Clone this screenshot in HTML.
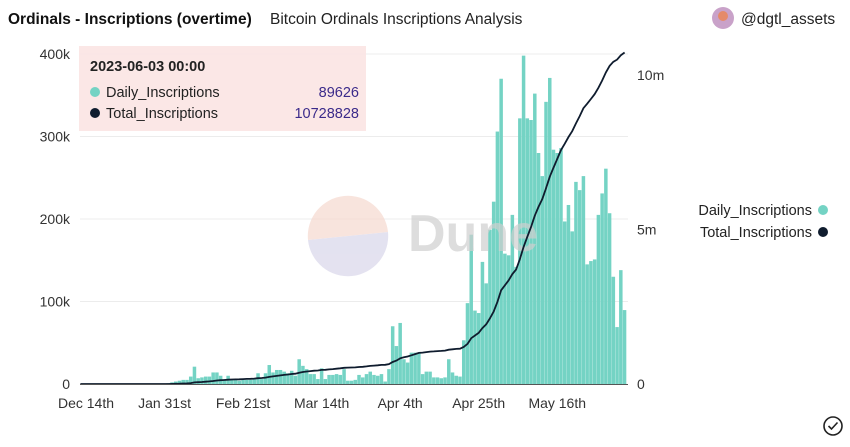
<!DOCTYPE html>
<html><head><meta charset="utf-8"><style>
body{margin:0;background:#fff;width:850px;height:442px;overflow:hidden;font-family:"Liberation Sans",sans-serif;}
svg text{font-family:"Liberation Sans",sans-serif;}
</style></head><body>
<svg id="chart" width="850" height="442" viewBox="0 0 850 442">
<text x="8" y="24" font-size="15.5" font-weight="bold" fill="#111">Ordinals - Inscriptions (overtime)</text>
<text x="270" y="24" font-size="15.5" fill="#222">Bitcoin Ordinals Inscriptions Analysis</text>
<g>
<circle cx="723" cy="18" r="11" fill="#c9a2c9"/><circle cx="723" cy="16" r="5" fill="#e58a6a"/>
<text x="741" y="24" font-size="15.5" fill="#222">@dgtl_assets</text></g>
<g id="grid"></g>
<g id="bars"></g>
<g opacity="0.7">
<path d="M308,240 A40,40 0 1,1 388,232 Z" fill="#f6d9cf"/>
<path d="M308,240 L388,232 A40,40 0 0,1 308,240 Z" fill="#d8d6ea"/>
<text x="408" y="251" font-size="52" font-weight="bold" fill="#cfcfcf">Dune</text></g>
<path id="line" fill="none" stroke="#0f1c2e" stroke-width="1.8"></path>
<g id="axes"></g>
<g>
<rect x="79" y="46" width="287" height="85" fill="#fbe6e5" opacity="0.95"/>
<text x="90" y="71" font-size="14.5" font-weight="bold" fill="#222">2023-06-03 00:00</text>
<circle cx="95" cy="92" r="5" fill="#74d3c4"/>
<text x="106" y="97" font-size="14.5" fill="#222">Daily_Inscriptions</text>
<text x="359" y="97" font-size="14.5" fill="#3b2a8a" text-anchor="end">89626</text>
<circle cx="95" cy="113" r="5" fill="#0f1c2e"/>
<text x="106" y="118" font-size="14.5" fill="#222">Total_Inscriptions</text>
<text x="359" y="118" font-size="14.5" fill="#3b2a8a" text-anchor="end">10728828</text></g>
<g>
<g><text x="812" y="215" font-size="14.5" fill="#222" text-anchor="end">Daily_Inscriptions</text><circle cx="823" cy="210" r="5" fill="#74d3c4"/></g>
<g><text x="812" y="237" font-size="14.5" fill="#222" text-anchor="end">Total_Inscriptions</text><circle cx="823" cy="232" r="5" fill="#0f1c2e"/></g></g>
<g><circle cx="833" cy="426" r="9" fill="none" stroke="#222" stroke-width="1.6"/><path d="M828.5,426 L831.5,429 L837.5,422.5" fill="none" stroke="#222" stroke-width="1.6"/></g>
</svg>
<script>
const startIndex = 22;
const daily = [1,2,3,4,5,5,9,21,7,8,9,9,14,14,10,6,10,5,5,4,5,5,5,6,13,6,13,23,14,17,17,15,13,16,10,30,22,18,12,12,6,19,6,11,11,12,11,18,4,4,5,11,8,12,15,11,10,12,3,18,70,46,74,30,26,38,38,38,12,15,15,8,8,7,8,30,14,10,9,53,
98,181,89,86,148,122,187,221,306,370,158,156,205,142,322,398,322,320,352,280,252,342,371,284,280,286,197,217,185,245,235,252,145,149,151,205,231,261,207,130,69,138,89.6];
const xTickLabels = ["Dec 14th","Jan 31st","Feb 21st","Mar 14th","Apr 4th","Apr 25th","May 16th"];
const xTickIdx = [0,21,42,63,84,105,126];
const leftTicks = [0,100,200,300,400];
const leftTickLabels = ["0","100k","200k","300k","400k"];
const rightTicks = [0,5000,10000];
const rightTickLabels = ["0","5m","10m"];
const finalTotal = 10728.828;

const NS="http://www.w3.org/2000/svg";
const x = i => 86 + 3.74*i;
const yL = v => 384 - v*0.825;
const yR = v => 384 - v*0.0309;
function mk(tag, attrs, parent){const e=document.createElementNS(NS,tag);for(const k in attrs)e.setAttribute(k,attrs[k]);document.getElementById(parent).appendChild(e);return e;}
leftTicks.forEach((t,k)=>{
  if(t>0){const g=mk('line',{x1:80,x2:628,y1:yL(t),y2:yL(t),stroke:'#ececec','stroke-width':1},'grid');
  
  }
  const l=mk('text',{x:70,y:yL(t)+5,'font-size':14,fill:'#333','text-anchor':'end'},'axes');
  l.textContent=leftTickLabels[k];
  
  
});
rightTicks.forEach((t,k)=>{
  const l=mk('text',{x:637,y:yR(t)+5,'font-size':14,fill:'#333'},'axes');
  l.textContent=rightTickLabels[k];
  
  
});
xTickIdx.forEach((t,k)=>{
  const l=mk('text',{x:x(t),y:408,'font-size':14,fill:'#333','text-anchor':'middle'},'axes');
  l.textContent=xTickLabels[k];
  
  
});
daily.forEach((v,k)=>{
  const i=startIndex+k;
  const b=mk('rect',{x:x(i)-1.75,y:yL(v),width:3.5,height:384-yL(v),fill:'#74d3c4'},'bars');
  
  
});
const sum=daily.reduce((a,b)=>a+b,0);
const sc=finalTotal/sum;
let cum=0;let d=`M${x(-1.5)},${yR(0)} L${x(startIndex-1)},${yR(0)}`;
daily.forEach((v,k)=>{cum+=v*sc;d+=` L${x(startIndex+k).toFixed(1)},${yR(cum).toFixed(1)}`;});
document.getElementById('line').setAttribute('d',d);
const base=mk('line',{x1:80,x2:628,y1:384.5,y2:384.5,stroke:'#555','stroke-width':1},'axes');


</script>
</body></html>
